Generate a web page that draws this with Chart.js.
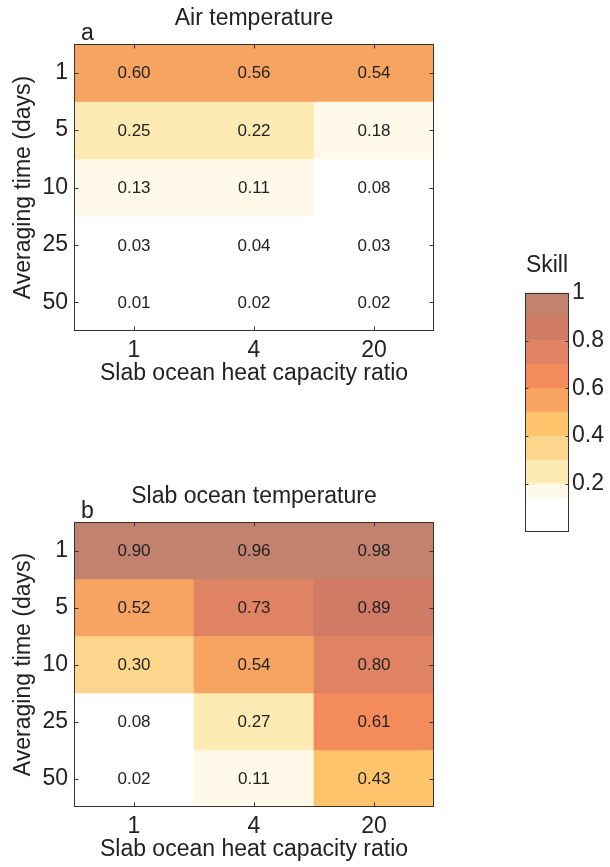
<!DOCTYPE html>
<html>
<head>
<meta charset="utf-8">
<script src="https://cdn.jsdelivr.net/npm/chart.js@4.4.1/dist/chart.umd.min.js"></script>
<style>
html, body { margin: 0; padding: 0; background: #fff; overflow: hidden; }
body { width: 610px; height: 867px; position: relative; }
.box { position: absolute; }
</style>
</head>
<body>
<div class="box" style="left:0;top:0;width:450px;height:400px"><canvas id="airChart"></canvas></div>
<div class="box" style="left:0;top:478px;width:450px;height:398px"><canvas id="slabChart"></canvas></div>
<div class="box" style="left:480px;top:240px;width:130px;height:310px"><canvas id="skillBar"></canvas></div>
<script>
var ratioLabels = ['1', '4', '20'];
var dayLabels = ['1', '5', '10', '25', '50'];

// rows = averaging time, columns = slab ocean heat capacity ratio
var airSkill = [
  [0.598, 0.56, 0.54],
  [0.25, 0.22, 0.18],
  [0.13, 0.11, 0.08],
  [0.03, 0.04, 0.03],
  [0.01, 0.02, 0.02]
];
var slabSkill = [
  [0.902, 0.96, 0.98],
  [0.52, 0.73, 0.89],
  [0.30, 0.54, 0.798],
  [0.08, 0.27, 0.61],
  [0.02, 0.11, 0.43]
];

var skillColors = ['#ffffff', '#fef9e8', '#feebb4', '#fdd68e', '#fdc46b', '#f7a462', '#f38b5b', '#e08362', '#d07b66', '#c3826e'];
var colorbarEdges = [0, 0.14, 0.2, 0.3, 0.4, 0.5, 0.6, 0.7, 0.8, 0.9, 1];
var colorbarTicks = [0.2, 0.4, 0.6, 0.8, 1];

Chart.defaults.font.family = '"Liberation Sans", Arial, sans-serif';
Chart.defaults.color = '#222';
Chart.defaults.animation = false;

var BIG = 23;

function skillColor(v) {
  var k = Math.floor(v * 10);
  return skillColors[Math.max(0, Math.min(k, 9))];
}

// numbers in the cells
var cellTextPlugin = {
  id: 'cellText',
  afterDatasetsDraw: function(chart, args, opts) {
    if (!opts.values) return;
    var ctx = chart.ctx;
    ctx.save();
    ctx.font = '17px "Liberation Sans", Arial, sans-serif';
    ctx.fillStyle = '#222';
    ctx.textAlign = 'center';
    ctx.textBaseline = 'middle';
    chart.data.datasets.forEach(function(ds, r) {
      chart.getDatasetMeta(r).data.forEach(function(bar, c) {
        var p = bar.getCenterPoint();
        ctx.fillText(opts.values[r][c].toFixed(2), p.x, p.y + 1);
      });
    });
    ctx.restore();
  }
};

// matlab style box with inward ticks + panel letter
var framePlugin = {
  id: 'frame',
  afterDraw: function(chart, args, opts) {
    var ctx = chart.ctx, a = chart.chartArea;
    var L = Math.round(a.left) + 0.5, R = Math.round(a.right) - 0.5;
    var T = Math.round(a.top) + 0.5, B = Math.round(a.bottom) - 0.5;
    var len = opts.tickLen || 4;
    ctx.save();
    ctx.strokeStyle = '#333';
    ctx.lineWidth = 1;
    ctx.strokeRect(L, T, R - L, B - T);
    ctx.beginPath();
    if (opts.xTicks) {
      var xs = chart.scales.x;
      xs.ticks.forEach(function(t, i) {
        var px = Math.round(xs.getPixelForTick(i)) + 0.5;
        ctx.moveTo(px, T); ctx.lineTo(px, T + len);
        ctx.moveTo(px, B); ctx.lineTo(px, B - len);
      });
    }
    var ys = chart.scales.y;
    ys.ticks.forEach(function(t) {
      var py = Math.round(ys.getPixelForValue(t.value)) + 0.5;
      if (py <= T + 1 || py >= B - 1) return;
      ctx.moveTo(L, py); ctx.lineTo(L + len, py);
      ctx.moveTo(R, py); ctx.lineTo(R - len, py);
    });
    ctx.stroke();
    if (opts.letter) {
      ctx.fillStyle = '#222';
      ctx.font = BIG + 'px "Liberation Sans", Arial, sans-serif';
      ctx.textAlign = 'left';
      ctx.textBaseline = 'alphabetic';
      ctx.fillText(opts.letter, a.left + 7, a.top - 4);
    }
    ctx.restore();
  }
};

function drawHeatmap(canvasId, title, letter, skill) {
  var datasets = skill.map(function(row, r) {
    return {
      label: dayLabels[r],
      data: row.map(function() { return [r, r + 1]; }),
      backgroundColor: row.map(skillColor),
      borderWidth: 0,
      barPercentage: 1,
      categoryPercentage: 1,
      grouped: false
    };
  });

  return new Chart(document.getElementById(canvasId), {
    type: 'bar',
    data: { labels: ratioLabels, datasets: datasets },
    options: {
      responsive: true,
      maintainAspectRatio: false,
      layout: { padding: { left: 0, right: 16, top: 0, bottom: 0 } },
      plugins: {
        legend: { display: false },
        tooltip: { enabled: false },
        title: {
          display: true, text: title, fullSize: false, color: '#222',
          font: { size: BIG, weight: 'normal' },
          padding: { top: 4.5, bottom: 11.9 }
        },
        cellText: { values: skill },
        frame: { letter: letter, xTicks: true, tickLen: 4 }
      },
      scales: {
        x: {
          type: 'category',
          grid: { display: false, drawTicks: false },
          border: { display: false },
          ticks: { font: { size: BIG }, color: '#222', padding: 5.5, maxRotation: 0 },
          title: {
            display: true, text: 'Slab ocean heat capacity ratio', color: '#222',
            font: { size: BIG }, padding: { top: 0, bottom: 12.5 }
          },
          afterFit: function(s) { s.height = 69; }
        },
        y: {
          type: 'linear', min: 0, max: 5, reverse: true,
          grid: { display: false, drawTicks: false },
          border: { display: false },
          afterBuildTicks: function(s) {
            s.ticks = dayLabels.map(function(d, i) { return { value: i + 0.5 }; });
          },
          ticks: {
            font: { size: BIG }, color: '#222', padding: 6,
            callback: function(v, i) { return dayLabels[i]; }
          },
          title: {
            display: true, text: 'Averaging time (days)', color: '#222',
            font: { size: BIG }, padding: { top: 10, bottom: 0 }
          },
          afterFit: function(s) { s.width = 74; }
        }
      }
    },
    plugins: [cellTextPlugin, framePlugin]
  });
}

drawHeatmap('airChart', 'Air temperature', 'a', airSkill);
drawHeatmap('slabChart', 'Slab ocean temperature', 'b', slabSkill);

// colour bar
var bandSets = skillColors.map(function(col, i) {
  return {
    data: [[colorbarEdges[i], colorbarEdges[i + 1]]],
    backgroundColor: col,
    borderWidth: 0,
    barPercentage: 1,
    categoryPercentage: 1,
    grouped: false
  };
});

new Chart(document.getElementById('skillBar'), {
  type: 'bar',
  data: { labels: [''], datasets: bandSets },
  options: {
    responsive: true,
    maintainAspectRatio: false,
    layout: { padding: { left: 45, right: 0, top: 0, bottom: 18.3 } },
    plugins: {
      legend: { display: false },
      tooltip: { enabled: false },
      title: {
        display: true, text: 'Skill', fullSize: false, color: '#222',
        font: { size: BIG, weight: 'normal' },
        padding: { top: 11.8, bottom: 13.3 }
      },
      frame: { xTicks: false, tickLen: 3 }
    },
    scales: {
      x: { display: false },
      y: {
        position: 'right', min: 0, max: 1,
        grid: { display: false, drawTicks: false },
        border: { display: false },
        afterBuildTicks: function(s) {
          s.ticks = colorbarTicks.map(function(v) { return { value: v }; });
        },
        ticks: {
          font: { size: BIG }, color: '#222', padding: 3,
          callback: function(v, i) { return String(colorbarTicks[i]); }
        },
        afterFit: function(s) { s.width = 41; }
      }
    }
  },
  plugins: [framePlugin]
});
</script>
</body>
</html>
